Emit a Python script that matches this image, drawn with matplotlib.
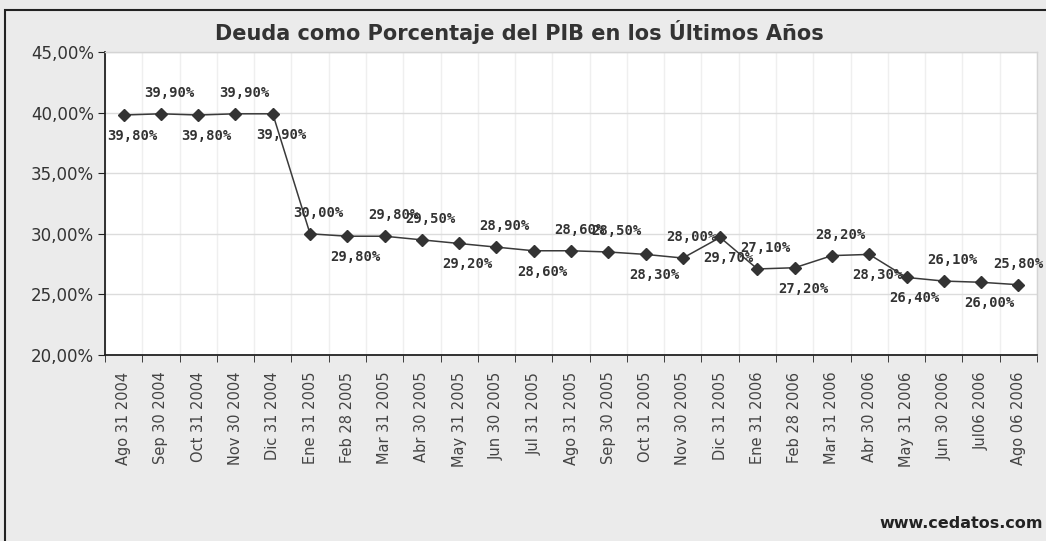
import matplotlib
matplotlib.use("Agg")
import matplotlib.pyplot as plt
from matplotlib.patches import Rectangle
from matplotlib.ticker import FixedLocator, FuncFormatter

# datos
fechas = ["Ago 31 2004", "Sep 30 2004", "Oct 31 2004", "Nov 30 2004", "Dic 31 2004",
          "Ene 31 2005", "Feb 28 2005", "Mar 31 2005", "Abr 30 2005", "May 31 2005",
          "Jun 30 2005", "Jul 31 2005", "Ago 31 2005", "Sep 30 2005", "Oct 31 2005",
          "Nov 30 2005", "Dic 31 2005", "Ene 31 2006", "Feb 28 2006", "Mar 31 2006",
          "Abr 30 2006", "May 31 2006", "Jun 30 2006", "Jul06 2006", "Ago 06 2006"]
deuda = [39.8, 39.9, 39.8, 39.9, 39.9, 30.0, 29.8, 29.8, 29.5, 29.2, 28.9, 28.6, 28.6,
         28.5, 28.3, 28.0, 29.7, 27.1, 27.2, 28.2, 28.3, 26.4, 26.1, 26.0, 25.8]
# posicion de la etiqueta: 1 arriba, -1 abajo
lado = [-1, 1, -1, 1, -1, 1, -1, 1, 1, -1, 1, -1, 1, 1, -1, 1, -1, 1, -1, 1, -1, -1, 1, -1, 1]
y_ticks = [20, 25, 30, 35, 40, 45]

fig = plt.figure(figsize=(10.46, 5.41), dpi=100)
fig.patch.set_facecolor("#ebebeb")
ax = fig.add_axes([0.1004, 0.3438, 0.8910, 0.5601])
ax.set_facecolor("white")

x = list(range(len(fechas)))
ax.plot(x, deuda, color="#3a3a3a", lw=1.1, marker="D", markersize=6.5,
        markerfacecolor="#333333", markeredgecolor="#333333", zorder=3)

for i, v in enumerate(deuda):
    dx = 0 if i == len(deuda) - 1 else 6
    ax.annotate(f"{v:.2f}%".replace(".", ","), (i, v), xytext=(dx, 15 * lado[i]),
                textcoords="offset points", ha="center", va="center",
                fontsize=10, fontweight="bold", family="DejaVu Sans Mono",
                color="#333333", zorder=4)

ax.set_xlim(-0.5, len(fechas) - 0.5)
ax.set_ylim(20, 45)
ax.set_yticks(y_ticks)
ax.yaxis.set_major_formatter(FuncFormatter(lambda v, p: f"{v:.2f}%".replace(".", ",")))
ax.set_xticks(x)
ax.set_xticklabels(fechas, rotation=90, fontsize=10.5, color="#444444")
ax.xaxis.set_minor_locator(FixedLocator([i - 0.5 for i in range(len(fechas) + 1)]))
ax.tick_params(axis="x", which="major", length=0, pad=12)
ax.tick_params(axis="x", which="minor", length=5, color="#222222")
ax.tick_params(axis="y", length=5, color="#222222", labelsize=12, labelcolor="#333333", pad=3)

ax.grid(axis="y", which="major", color="#dcdcdc", lw=1)
ax.grid(axis="x", which="minor", color="#efefef", lw=1)
ax.set_axisbelow(True)
for s in ["top", "right"]:
    ax.spines[s].set_color("#d4d4d4")
    ax.spines[s].set_linewidth(1)
ax.spines["left"].set_color("#222222")
ax.spines["bottom"].set_color("#222222")
ax.spines["left"].set_linewidth(1.3)
ax.spines["bottom"].set_linewidth(1.3)

fig.text(0.497, 0.941, "Deuda como Porcentaje del PIB en los Últimos Años",
         ha="center", va="center", fontsize=15, fontweight="bold", color="#333333")
fig.text(0.997, 0.033, "www.cedatos.com", ha="right", va="center", fontsize=11.5,
         fontweight="bold", family=["Liberation Sans Narrow", "DejaVu Sans"], color="#222222")

# marco exterior (solo se ven los lados izquierdo y superior)
fig.patches.append(Rectangle((0.005, -0.01), 1.0, 0.992, transform=fig.transFigure,
                             fill=False, edgecolor="#222222", lw=1.5))

fig.savefig("out.png", dpi=100, facecolor=fig.get_facecolor())
